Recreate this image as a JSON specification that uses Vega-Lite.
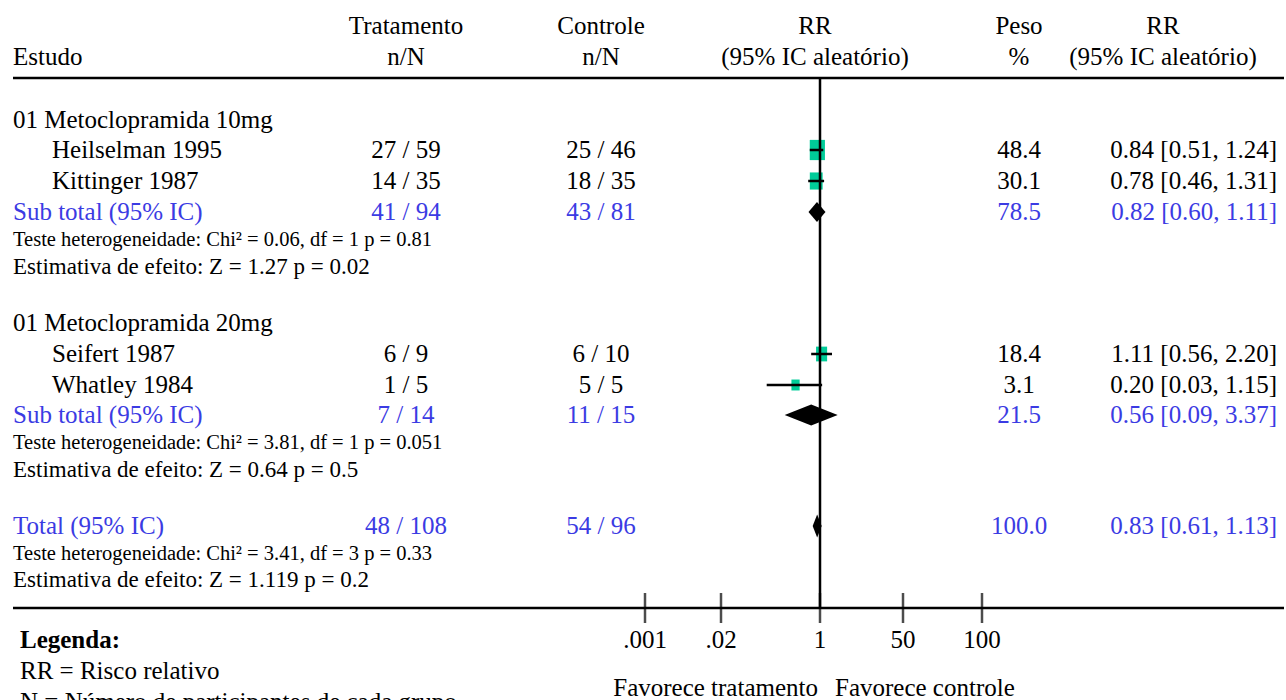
{
  "$schema": "https://vega.github.io/schema/vega-lite/v6.json",
  "width": 1286,
  "height": 700,
  "autosize": "none",
  "padding": 0,
  "background": "white",
  "config": {"view": {"stroke": null}, "text": {"font": "Liberation Serif"}},
  "datasets": {
    "cells": [
      {"line": 0, "col": 3, "text": "Tratamento", "kind": "n"},
      {"line": 0, "col": 4, "text": "Controle", "kind": "n"},
      {"line": 0, "col": 5, "text": "RR", "kind": "n"},
      {"line": 0, "col": 8, "text": "Peso", "kind": "n"},
      {"line": 0, "col": 9, "text": "RR", "kind": "n"},
      {"line": 1, "col": 0, "text": "Estudo", "kind": "n"},
      {"line": 1, "col": 3, "text": "n/N", "kind": "n"},
      {"line": 1, "col": 4, "text": "n/N", "kind": "n"},
      {"line": 1, "col": 5, "text": "(95% IC aleatório)", "kind": "n"},
      {"line": 1, "col": 8, "text": "%", "kind": "n"},
      {"line": 1, "col": 9, "text": "(95% IC aleatório)", "kind": "n"},
      {"line": 3, "col": 0, "text": "01 Metoclopramida 10mg", "kind": "n"},
      {"line": 4, "col": 2, "text": "Heilselman 1995", "kind": "n"},
      {"line": 4, "col": 3, "text": "27 / 59", "kind": "n"},
      {"line": 4, "col": 4, "text": "25 / 46", "kind": "n"},
      {"line": 4, "col": 8, "text": "48.4", "kind": "n"},
      {"line": 4, "col": 10, "text": "0.84 [0.51, 1.24]", "kind": "n"},
      {"line": 5, "col": 2, "text": "Kittinger 1987", "kind": "n"},
      {"line": 5, "col": 3, "text": "14 / 35", "kind": "n"},
      {"line": 5, "col": 4, "text": "18 / 35", "kind": "n"},
      {"line": 5, "col": 8, "text": "30.1", "kind": "n"},
      {"line": 5, "col": 10, "text": "0.78 [0.46, 1.31]", "kind": "n"},
      {"line": 6, "col": 0, "text": "Sub total (95% IC)", "kind": "b"},
      {"line": 6, "col": 3, "text": "41 / 94", "kind": "b"},
      {"line": 6, "col": 4, "text": "43 / 81", "kind": "b"},
      {"line": 6, "col": 8, "text": "78.5", "kind": "b"},
      {"line": 6, "col": 10, "text": "0.82 [0.60, 1.11]", "kind": "b"},
      {"line": 7, "col": 0, "text": "Teste heterogeneidade: Chi² = 0.06, df = 1 p = 0.81", "kind": "het"},
      {"line": 8, "col": 0, "text": "Estimativa de efeito: Z = 1.27 p = 0.02", "kind": "eff"},
      {"line": 9, "col": 0, "text": "01 Metoclopramida 20mg", "kind": "n"},
      {"line": 10, "col": 2, "text": "Seifert 1987", "kind": "n"},
      {"line": 10, "col": 3, "text": "6 / 9", "kind": "n"},
      {"line": 10, "col": 4, "text": "6 / 10", "kind": "n"},
      {"line": 10, "col": 8, "text": "18.4", "kind": "n"},
      {"line": 10, "col": 10, "text": "1.11 [0.56, 2.20]", "kind": "n"},
      {"line": 11, "col": 2, "text": "Whatley 1984", "kind": "n"},
      {"line": 11, "col": 3, "text": "1 / 5", "kind": "n"},
      {"line": 11, "col": 4, "text": "5 / 5", "kind": "n"},
      {"line": 11, "col": 8, "text": "3.1", "kind": "n"},
      {"line": 11, "col": 10, "text": "0.20 [0.03, 1.15]", "kind": "n"},
      {"line": 12, "col": 0, "text": "Sub total (95% IC)", "kind": "b"},
      {"line": 12, "col": 3, "text": "7 / 14", "kind": "b"},
      {"line": 12, "col": 4, "text": "11 / 15", "kind": "b"},
      {"line": 12, "col": 8, "text": "21.5", "kind": "b"},
      {"line": 12, "col": 10, "text": "0.56 [0.09, 3.37]", "kind": "b"},
      {"line": 13, "col": 0, "text": "Teste heterogeneidade: Chi² = 3.81, df = 1 p = 0.051", "kind": "het"},
      {"line": 14, "col": 0, "text": "Estimativa de efeito: Z = 0.64 p = 0.5", "kind": "eff"},
      {"line": 15, "col": 0, "text": "Total (95% IC)", "kind": "b"},
      {"line": 15, "col": 3, "text": "48 / 108", "kind": "b"},
      {"line": 15, "col": 4, "text": "54 / 96", "kind": "b"},
      {"line": 15, "col": 8, "text": "100.0", "kind": "b"},
      {"line": 15, "col": 10, "text": "0.83 [0.61, 1.13]", "kind": "b"},
      {"line": 16, "col": 0, "text": "Teste heterogeneidade: Chi² = 3.41, df = 3 p = 0.33", "kind": "het"},
      {"line": 17, "col": 0, "text": "Estimativa de efeito: Z = 1.119 p = 0.2", "kind": "eff"},
      {"line": 19, "col": 1, "text": "Legenda:", "kind": "bold"},
      {"line": 20, "col": 1, "text": "RR = Risco relativo", "kind": "n"},
      {"line": 21, "col": 6, "text": "Favorece tratamento", "kind": "n"},
      {"line": 21, "col": 7, "text": "Favorece controle", "kind": "n"},
      {"line": 22, "col": 1, "text": "N = Número de participantes de cada grupo", "kind": "n"}
    ],
    "hrules": [
      {"line": 2, "c1": 0, "c2": 11},
      {"line": 18, "c1": 0, "c2": 11}
    ],
    "ticks": [
      {"value": 0.001, "label": ".001", "line": 18, "lline": 19},
      {"value": 0.02, "label": ".02", "line": 18, "lline": 19},
      {"value": 1, "label": "1", "line": 18, "lline": 19},
      {"value": 50, "label": "50", "line": 18, "lline": 19},
      {"value": 100, "label": "100", "line": 18, "lline": 19}
    ],
    "ref": [{"value": 1, "line": 2, "line2": 18}],
    "studies": [
      {"line": 4, "rr": 0.84, "lo": 0.51, "hi": 1.24, "peso": 48.4},
      {"line": 5, "rr": 0.78, "lo": 0.46, "hi": 1.31, "peso": 30.1},
      {"line": 10, "rr": 1.11, "lo": 0.56, "hi": 2.20, "peso": 18.4},
      {"line": 11, "rr": 0.20, "lo": 0.03, "hi": 1.15, "peso": 3.1}
    ],
    "summaries": [
      {"line": 6, "group": "sub1", "rr": 0.82, "lo": 0.60, "hi": 1.11},
      {"line": 12, "group": "sub2", "rr": 0.56, "lo": 0.09, "hi": 3.37},
      {"line": 15, "group": "total", "rr": 0.83, "lo": 0.61, "hi": 1.13}
    ]
  },
  "resolve": {"scale": {"x": "independent", "size": "independent"}},
  "layer": [
    {
      "data": {"name": "hrules"},
      "mark": {"type": "rule", "color": "black", "strokeWidth": 2.5},
      "encoding": {
        "x": {"field": "c1", "type": "quantitative", "axis": null,
              "scale": {"domain": [0,1,2,3,4,5,6,7,8,9,10,11], "range": [13,20,52,406,601,815,818,835,1019,1163,1277,1284], "zero": false, "nice": false}},
        "x2": {"field": "c2"},
        "y": {"field": "line", "type": "quantitative", "axis": null,
              "scale": {"domain": [0,1,2,3,4,5,6,7,8,9,10,11,12,13,14,15,16,17,18,19,20,21,22], "range": [26,57,78,120,150,181,212,240,267,323,354,385,415,443,470,526,554,580,608,640,671,688,702], "zero": false, "nice": false}}
      }
    },
    {
      "data": {"name": "studies"},
      "mark": {"type": "point", "filled": true, "shape": "M-0.75,-1H0.75V1H-0.75Z", "color": "#00cc99", "opacity": 1, "strokeWidth": 0},
      "encoding": {
        "x": {"field": "rr", "type": "quantitative", "axis": null,
              "scale": {"type": "log", "domain": [0.01, 100], "range": [750, 890], "nice": false}},
        "y": {"field": "line", "type": "quantitative", "axis": null},
        "size": {"field": "peso", "type": "quantitative", "legend": null,
                 "scale": {"domain": [0, 50], "range": [100, 420], "zero": false}}
      }
    },
    {
      "data": {"name": "studies"},
      "mark": {"type": "rule", "color": "black", "strokeWidth": 2.5},
      "encoding": {
        "x": {"field": "lo", "type": "quantitative", "axis": null,
              "scale": {"type": "log", "domain": [0.01, 100], "range": [750, 890], "nice": false}},
        "x2": {"field": "hi"},
        "y": {"field": "line", "type": "quantitative", "axis": null}
      }
    },
    {
      "data": {"name": "summaries"},
      "mark": {"type": "point", "filled": true, "color": "black", "opacity": 1, "strokeWidth": 0, "size": 400},
      "encoding": {
        "x": {"field": "rr", "type": "quantitative", "axis": null,
              "scale": {"type": "log", "domain": [0.01, 100], "range": [750, 890], "nice": false}},
        "y": {"field": "line", "type": "quantitative", "axis": null},
        "shape": {"field": "group", "type": "nominal", "legend": null,
                  "scale": {"domain": ["sub1", "sub2", "total"],
                            "range": ["M-0.85,0L0,-1L0.85,0L0,1Z", "M-2.65,0L0,-1.05L2.65,0L0,1.05Z", "M-0.45,0L0,-1.15L0.45,0L0,1.15Z"]}}
      }
    },
    {
      "data": {"name": "ref"},
      "mark": {"type": "rule", "color": "black", "strokeWidth": 2.5},
      "encoding": {
        "x": {"field": "value", "type": "quantitative", "axis": null,
              "scale": {"type": "log", "domain": [0.001, 0.02, 1, 50, 100], "range": [645, 721, 820, 903, 982], "nice": false}},
        "y": {"field": "line", "type": "quantitative", "axis": null},
        "y2": {"field": "line2"}
      }
    },
    {
      "data": {"name": "ticks"},
      "mark": {"type": "tick", "orient": "vertical", "color": "black", "size": 30, "thickness": 2.5},
      "encoding": {
        "x": {"field": "value", "type": "quantitative", "axis": null,
              "scale": {"type": "log", "domain": [0.001, 0.02, 1, 50, 100], "range": [645, 721, 820, 903, 982], "nice": false}},
        "y": {"field": "line", "type": "quantitative", "axis": null}
      }
    },
    {
      "data": {"name": "ticks"},
      "mark": {"type": "text", "align": "center", "baseline": "middle", "fontSize": 25, "color": "black"},
      "encoding": {
        "x": {"field": "value", "type": "quantitative", "axis": null,
              "scale": {"type": "log", "domain": [0.001, 0.02, 1, 50, 100], "range": [645, 721, 820, 903, 982], "nice": false}},
        "y": {"field": "lline", "type": "quantitative", "axis": null},
        "text": {"field": "label"}
      }
    },
    {
      "data": {"name": "cells"},
      "transform": [{"filter": "(datum.col == 0 || datum.col == 1 || datum.col == 2 || datum.col == 7) && (datum.kind == 'n' || datum.kind == 'b')"}],
      "mark": {"type": "text", "align": "left", "baseline": "middle", "fontSize": 25},
      "encoding": {
        "x": {"field": "col", "type": "quantitative", "axis": null,
              "scale": {"domain": [0,1,2,3,4,5,6,7,8,9,10,11], "range": [13,20,52,406,601,815,818,835,1019,1163,1277,1284], "zero": false, "nice": false}},
        "y": {"field": "line", "type": "quantitative", "axis": null},
        "text": {"field": "text"},
        "color": {"field": "kind", "type": "nominal", "legend": null,
                  "scale": {"domain": ["n", "b", "het", "eff", "bold"], "range": ["#000000", "#3b3be3", "#000000", "#000000", "#000000"]}}
      }
    },
    {
      "data": {"name": "cells"},
      "transform": [{"filter": "datum.kind == 'het'"}],
      "mark": {"type": "text", "align": "left", "baseline": "middle", "fontSize": 20.5},
      "encoding": {
        "x": {"field": "col", "type": "quantitative", "axis": null,
              "scale": {"domain": [0,1,2,3,4,5,6,7,8,9,10,11], "range": [13,20,52,406,601,815,818,835,1019,1163,1277,1284], "zero": false, "nice": false}},
        "y": {"field": "line", "type": "quantitative", "axis": null},
        "text": {"field": "text"},
        "color": {"field": "kind", "type": "nominal", "legend": null}
      }
    },
    {
      "data": {"name": "cells"},
      "transform": [{"filter": "datum.kind == 'eff'"}],
      "mark": {"type": "text", "align": "left", "baseline": "middle", "fontSize": 23},
      "encoding": {
        "x": {"field": "col", "type": "quantitative", "axis": null,
              "scale": {"domain": [0,1,2,3,4,5,6,7,8,9,10,11], "range": [13,20,52,406,601,815,818,835,1019,1163,1277,1284], "zero": false, "nice": false}},
        "y": {"field": "line", "type": "quantitative", "axis": null},
        "text": {"field": "text"},
        "color": {"field": "kind", "type": "nominal", "legend": null}
      }
    },
    {
      "data": {"name": "cells"},
      "transform": [{"filter": "datum.kind == 'bold'"}],
      "mark": {"type": "text", "align": "left", "baseline": "middle", "fontSize": 25, "fontWeight": "bold"},
      "encoding": {
        "x": {"field": "col", "type": "quantitative", "axis": null,
              "scale": {"domain": [0,1,2,3,4,5,6,7,8,9,10,11], "range": [13,20,52,406,601,815,818,835,1019,1163,1277,1284], "zero": false, "nice": false}},
        "y": {"field": "line", "type": "quantitative", "axis": null},
        "text": {"field": "text"},
        "color": {"field": "kind", "type": "nominal", "legend": null}
      }
    },
    {
      "data": {"name": "cells"},
      "transform": [{"filter": "datum.col == 3 || datum.col == 4 || datum.col == 5 || datum.col == 8 || datum.col == 9"}],
      "mark": {"type": "text", "align": "center", "baseline": "middle", "fontSize": 25},
      "encoding": {
        "x": {"field": "col", "type": "quantitative", "axis": null,
              "scale": {"domain": [0,1,2,3,4,5,6,7,8,9,10,11], "range": [13,20,52,406,601,815,818,835,1019,1163,1277,1284], "zero": false, "nice": false}},
        "y": {"field": "line", "type": "quantitative", "axis": null},
        "text": {"field": "text"},
        "color": {"field": "kind", "type": "nominal", "legend": null}
      }
    },
    {
      "data": {"name": "cells"},
      "transform": [{"filter": "datum.col == 6 || datum.col == 10"}],
      "mark": {"type": "text", "align": "right", "baseline": "middle", "fontSize": 25},
      "encoding": {
        "x": {"field": "col", "type": "quantitative", "axis": null,
              "scale": {"domain": [0,1,2,3,4,5,6,7,8,9,10,11], "range": [13,20,52,406,601,815,818,835,1019,1163,1277,1284], "zero": false, "nice": false}},
        "y": {"field": "line", "type": "quantitative", "axis": null},
        "text": {"field": "text"},
        "color": {"field": "kind", "type": "nominal", "legend": null}
      }
    }
  ]
}
